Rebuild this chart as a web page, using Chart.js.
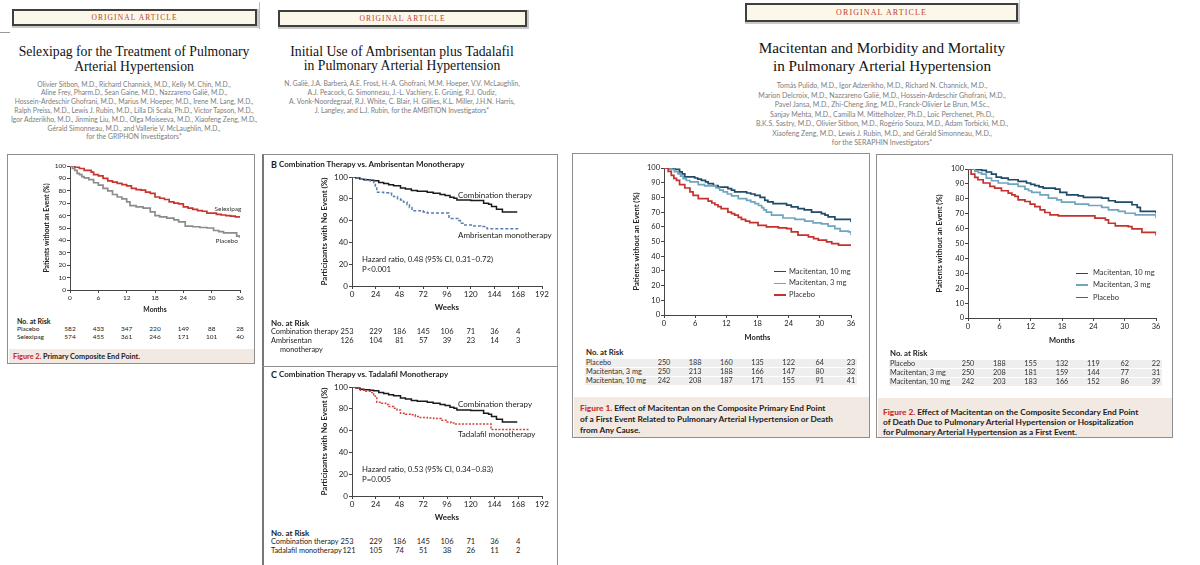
<!DOCTYPE html>
<html>
<head>
<meta charset="utf-8">
<script src="https://cdn.jsdelivr.net/npm/chart.js@4.4.1/dist/chart.umd.min.js"></script>
<style>
html, body { margin: 0; padding: 0; background: #fff; }
body { width: 1200px; height: 565px; position: relative; overflow: hidden; font-family: Lato, "Open Sans", sans-serif; color: #222; }
.t { position: absolute; white-space: pre; line-height: 1; transform: translate(0, -50%); }
.tc { transform: translate(-50%, -50%); }
.oa { position: absolute; box-sizing: border-box; background: #fbf8e9; border: 2px solid #3f3f3f; box-shadow: 1px 1px 0 1px #c9c9c9;
      display: flex; align-items: center; justify-content: center; font-family: "Liberation Serif", "DejaVu Serif", serif;
      color: #c23a30; letter-spacing: 1.1px; }
.title { position: absolute; text-align: center; white-space: pre; font-family: "Liberation Serif", "DejaVu Serif", serif; color: #111; }
.authors { position: absolute; text-align: center; white-space: pre; color: #7d7d7d; }
.box { position: absolute; box-sizing: border-box; border: 1.5px solid #8e8e8e; }
.cap { position: absolute; background: #f1e9e2; }
.captxt { position: absolute; white-space: pre; font-weight: bold; color: #222; }
.captxt b { color: #c8302d; }
.chart { position: absolute; }
.band { position: absolute; background: #eeeeee; }
</style>
</head>
<body>

<!-- Selexipag article header -->
<div style="position:absolute;left:0;top:32px;width:10px;height:1px;background:#999"></div>
<div style="position:absolute;left:259px;top:2px;width:1px;height:27px;background:#bbb"></div>
<div class="oa" style="left:12px;top:9px;width:245px;height:17px;font-size:7.5px">ORIGINAL ARTICLE</div>
<div class="title" style="left:0;top:43.5px;width:268px;font-size:13.7px;line-height:15px">Selexipag for the Treatment of Pulmonary
Arterial Hypertension</div>
<div class="authors" style="left:0;top:79.6px;width:268px;font-size:6.8px;line-height:8.8px">Olivier Sitbon, M.D., Richard Channick, M.D., Kelly M. Chin, M.D.,
Aline Frey, Pharm.D., Sean Gaine, M.D., Nazzareno Galiè, M.D.,
Hossein-Ardeschir Ghofrani, M.D., Marius M. Hoeper, M.D., Irene M. Lang, M.D.,
Ralph Preiss, M.D., Lewis J. Rubin, M.D., Lilla Di Scala, Ph.D., Victor Tapson, M.D.,
Igor Adzerikho, M.D., Jinming Liu, M.D., Olga Moiseeva, M.D., Xiaofeng Zeng, M.D.,
Gérald Simonneau, M.D., and Vallerie V. McLaughlin, M.D.,
for the GRIPHON Investigators*</div>

<!-- Ambrisentan + tadalafil article header -->
<div class="oa" style="left:278px;top:10px;width:249px;height:17px;font-size:7.5px">ORIGINAL ARTICLE</div>
<div class="title" style="left:262px;top:44.5px;width:280px;font-size:13.7px;line-height:14.5px">Initial Use of Ambrisentan plus Tadalafil
in Pulmonary Arterial Hypertension</div>
<div class="authors" style="left:262px;top:78.5px;width:280px;font-size:6.8px;line-height:9px">N. Galiè, J.A. Barberà, A.E. Frost, H.-A. Ghofrani, M.M. Hoeper, V.V. McLaughlin,
A.J. Peacock, G. Simonneau, J.-L. Vachiery, E. Grünig, R.J. Oudiz,
A. Vonk-Noordegraaf, R.J. White, C. Blair, H. Gillies, K.L. Miller, J.H.N. Harris,
J. Langley, and L.J. Rubin, for the AMBITION Investigators*</div>

<!-- Macitentan article header -->
<div style="position:absolute;left:1019px;top:0;width:1px;height:24px;background:#ccc"></div>
<div class="oa" style="left:745px;top:3px;width:273px;height:19px;font-size:8px">ORIGINAL ARTICLE</div>
<div class="title" style="left:732px;top:38.8px;width:300px;font-size:15.2px;line-height:18.5px">Macitentan and Morbidity and Mortality
in Pulmonary Arterial Hypertension</div>
<div class="authors" style="left:732px;top:81.3px;width:300px;font-size:7px;line-height:9.5px">Tomás Pulido, M.D., Igor Adzerikho, M.D., Richard N. Channick, M.D.,
Marion Delcroix, M.D., Nazzareno Galiè, M.D., Hossein-Ardeschir Ghofrani, M.D.,
Pavel Jansa, M.D., Zhi-Cheng Jing, M.D., Franck-Olivier Le Brun, M.Sc.,
Sanjay Mehta, M.D., Camilla M. Mittelholzer, Ph.D., Loïc Perchenet, Ph.D.,
B.K.S. Sastry, M.D., Olivier Sitbon, M.D., Rogério Souza, M.D., Adam Torbicki, M.D.,
Xiaofeng Zeng, M.D., Lewis J. Rubin, M.D., and Gérald Simonneau, M.D.,
for the SERAPHIN Investigators*</div>

<!-- figure frames -->
<div class="box" style="left:7px;top:154px;width:248px;height:210px"></div>
<div class="cap" style="left:8.5px;top:349px;width:245px;height:13.5px"></div>
<div class="captxt" style="left:13px;top:352px;font-size:7.3px"><b>Figure 2.</b> Primary Composite End Point.</div>

<div class="box" style="left:262px;top:154px;width:296px;height:430px;border-left:2px solid #777"></div>
<div style="position:absolute;left:262px;top:365.5px;width:296px;height:1.5px;background:#8e8e8e"></div>

<div class="box" style="left:572px;top:153px;width:298px;height:285px"></div>
<div class="cap" style="left:573.5px;top:397px;width:295px;height:39.5px"></div>
<div class="captxt" style="left:580px;top:402.5px;font-size:8.3px;line-height:11px"><b>Figure 1.</b> Effect of Macitentan on the Composite Primary End Point
of a First Event Related to Pulmonary Arterial Hypertension or Death
from Any Cause.</div>

<div class="box" style="left:876px;top:154px;width:297px;height:284px"></div>
<div class="cap" style="left:877.5px;top:398px;width:294px;height:38.5px"></div>
<div class="captxt" style="left:883px;top:406.5px;font-size:8.3px;line-height:10px"><b>Figure 2.</b> Effect of Macitentan on the Composite Secondary End Point
of Death Due to Pulmonary Arterial Hypertension or Hospitalization
for Pulmonary Arterial Hypertension as a First Event.</div>

<div class="chart" style="left:43px;top:156px;width:211px;height:158px"><canvas id="selexChart"></canvas></div>
<div class="chart" style="left:320px;top:168px;width:236px;height:144px"><canvas id="ambrisChart"></canvas></div>
<div class="chart" style="left:320px;top:378px;width:236px;height:144px"><canvas id="tadalChart"></canvas></div>
<div class="chart" style="left:632px;top:158px;width:233px;height:184px"><canvas id="macPrimaryChart"></canvas></div>
<div class="chart" style="left:935px;top:159px;width:235px;height:186px"><canvas id="macSecondaryChart"></canvas></div>

<script>
// ---- Selexipag (GRIPHON), months vs % without event ----
const selexipagCurve = [[0,100],[1,99],[2,98],[3,96.5],[4.5,95],[5,93],[6,92],[7,90],[8,88],[9,87],[10,86],[11,85],[12,84],[13,82],[14,81],[15,80.5],[16,79],[17,78],[18,75],[19,74],[20,73],[21,71],[22,70],[23,69.5],[24,67],[25,66],[26,65],[27,64],[28,63.5],[29,62],[30,62],[31,61],[32,60.5],[33,60],[34,59.5],[35,59],[36,58.5]];
const selexPlaceboCurve = [[0,100],[0.5,98],[1,96.5],[1.5,94],[2,93],[2.5,91.5],[3,90.5],[4,89],[5,86.5],[6,84.5],[7,82],[8,80],[9,77],[10,75],[11,73.5],[12,71],[12.7,68],[14,67],[15.5,66],[17,63],[18,60],[19,59],[20.5,58],[22,56.5],[23,55],[24.4,51.5],[26,51],[27.5,50.4],[29,50],[30.4,48],[31.5,47],[32.5,46],[35,46],[35.3,43.4],[36,42]];
const selexRiskMonths = [0, 6, 12, 18, 24, 30, 36];
const selexRiskPlacebo = [582, 433, 347, 220, 149, 88, 28];
const selexRiskSelexipag = [574, 455, 361, 246, 171, 101, 40];

// ---- AMBITION, weeks vs % with no event ----
const comboCurve = [[0,100],[4,99],[8,98],[12,97.5],[18,97],[22,96.5],[27,95],[32,94],[37,93],[42,92],[49,90],[54,89],[60,87.7],[66,87],[76,86],[82,85],[89,84],[94,83],[99,81.5],[103,80.5],[106,79],[120,78.5],[131,78.5],[133,76],[138,75],[141,73],[146,70.5],[152,68],[167,68]];
const ambrisentanCurve = [[0,100],[5,99],[8,98],[14,97],[18.5,96],[22,94],[23.6,91.4],[25,86],[32,85.5],[37,85],[40,83.5],[42,82],[46,80],[49,79],[52,77],[55.6,74.5],[58,72],[60.6,69],[72,68],[76,67],[96,67],[98,62],[108,60],[109.5,57.5],[113,56],[122,55],[130,54.5],[136.5,52.6],[168,52.6]];
const tadalafilCurve = [[0,100],[4,99],[8.4,97],[14,96],[18.5,95],[22,93],[23.6,91.4],[25,86],[30,85],[34,84],[37,82],[42,80.5],[45.5,79],[49,76],[54,75],[59,74.5],[64,73],[69,72],[76,71.5],[82.5,71],[90,69.5],[96,68],[100,67],[103,66],[140,66],[140.5,61],[179,61]];
const ambitionRiskWeeks = [0, 24, 48, 72, 96, 120, 144, 168];
const riskCombo = [253, 229, 186, 145, 106, 71, 36, 4];
const riskAmbrisentan = [126, 104, 81, 57, 39, 23, 14, 3];
const riskTadalafil = [121, 105, 74, 51, 38, 26, 11, 2];

// ---- SERAPHIN figure 1 (primary end point) ----
const macPrim10 = [[0,100],[1,99.5],[2.1,99],[3,97.3],[3.5,96],[4,94],[5.9,93.2],[6.5,92.5],[7.2,91.6],[8,90.5],[8.5,89.4],[9.5,88],[10.4,87],[12.3,86],[13,85],[13.6,83.7],[15.9,83],[16.7,82.3],[17.5,81.4],[18.5,80],[19.4,78],[20,77],[21,75.8],[23.6,74.7],[24.5,73.5],[25.8,72.4],[27,71.5],[28.4,70],[30.3,69],[31,68],[31.6,66.7],[32.9,65],[35.8,65],[36,63.3]];
const macPrim3 = [[0,100],[1.4,99],[2,97.5],[2.7,96],[3.2,94.5],[3.7,92.8],[4.3,91.5],[5,90.5],[6.6,88.7],[7.8,87.8],[10,86.4],[10.7,85],[11.4,83.7],[12.2,82.3],[13,81],[14.3,79.2],[15.9,78],[16.7,77],[17.5,75.8],[18.2,74.5],[18.8,73],[19.2,71.5],[19.7,70],[20.7,67.9],[22,67.9],[22.9,66],[25.2,65],[27.1,63.8],[28.7,62.7],[30.3,62],[31.6,60.4],[32.9,58.8],[33.9,57],[35.5,56.6],[36,54.3]];
const macPrimPlacebo = [[0,100],[0.8,97.7],[1.4,95],[1.9,93],[2.4,91.6],[3,88.7],[4,86.4],[5,83.7],[5.6,81.4],[6.6,79.2],[8.5,77.4],[9.2,76.2],[9.8,75],[10.4,73.7],[11,72.4],[12.3,70],[13,69],[13.6,67.9],[14.3,66.4],[14.9,65],[15.7,63.9],[16.5,62.9],[18.1,61],[19.7,60],[22,59.3],[23.6,58.8],[24.5,56.6],[25.8,54.3],[27.8,53.2],[28.8,52],[29.7,51],[31.3,49.8],[32.3,48.6],[33.6,47.5],[36,47.5]];
const macRiskMonths = [0, 6, 12, 18, 24, 30, 36];
const macPrimRiskPlacebo = [250, 188, 160, 135, 122, 64, 23];
const macPrimRisk3 = [250, 213, 188, 166, 147, 80, 32];
const macPrimRisk10 = [242, 208, 187, 171, 155, 91, 41];

// ---- SERAPHIN figure 2 (secondary end point) ----
const macSec10 = [[0,100],[1.5,99.5],[2.6,99.1],[3.5,98],[4.5,96.6],[5.4,94.6],[6.4,93.9],[7.7,92.8],[9.6,91.7],[11.2,90.6],[12,89.7],[12.8,88.8],[13.6,88],[14.4,87.2],[16.7,86.5],[17.6,84.3],[18.9,82.7],[21.1,82],[22.1,81],[25.6,80.4],[26.9,78.7],[28.2,77.8],[31.4,76],[32.4,74.2],[33,71.5],[35.9,71.5],[36,70.3]];
const macSec3 = [[0,100],[1.3,98.4],[2,97.5],[2.6,96.6],[3.5,93.9],[4.5,92.1],[5.8,90.6],[7.7,89.9],[9.6,88.3],[10.9,86.5],[11.6,85.4],[12.2,84.3],[13.8,82.7],[15.4,80.4],[17,79.3],[17.9,77.8],[20.5,76.4],[23.1,75.5],[25.6,74.2],[26.9,72.6],[28.8,71.5],[30.1,70.3],[32,69.2],[35.9,69.2],[36,67]];
const macSecPlacebo = [[0,100],[0.6,96.6],[1.3,94.4],[1.9,92.8],[2.9,90.6],[4.2,88.3],[5.1,87.2],[6.4,85.4],[7.7,83.8],[8.4,82.7],[9,81.6],[9.6,79.3],[10.9,78.2],[11.9,76.4],[12.8,74.8],[13.8,72.6],[14.7,70.8],[15.7,69.2],[17.3,68.5],[23.1,68.5],[24.3,67],[26.3,65.8],[26.9,63.6],[28.2,61.8],[30.7,61.3],[31.4,59.8],[33.3,57.5],[35.9,57.5],[36,55.3]];
const macSecRiskPlacebo = [250, 188, 155, 132, 119, 62, 22];
const macSecRisk3 = [250, 208, 181, 159, 144, 77, 31];
const macSecRisk10 = [242, 203, 183, 166, 152, 86, 39];

const AXIS = '#454545';
Chart.defaults.font.family = 'Lato, "Open Sans", sans-serif';
Chart.defaults.color = '#222';

function curve(points, color, dash, width) {
    return {
        data: points.map(p => ({ x: p[0], y: p[1] })),
        stepped: true,
        borderColor: color,
        borderWidth: width || 1.7,
        borderDash: dash || [],
        pointRadius: 0,
        fill: false
    };
}

// Kaplan-Meier style plot with fixed axis sizes so the plot area lands where the figure has it
function kmChart(id, datasets, o) {
    const ctx = document.getElementById(id).getContext('2d');
    return new Chart(ctx, {
        type: 'line',
        data: { datasets: datasets },
        options: {
            responsive: true,
            maintainAspectRatio: false,
            animation: false,
            layout: { padding: { top: o.padTop, right: 14, left: 0, bottom: 0 } },
            plugins: { legend: { display: false }, tooltip: { enabled: false } },
            scales: {
                x: {
                    type: 'linear', min: 0, max: o.xMax,
                    ticks: { stepSize: o.xStep, font: { size: o.tickSize }, padding: 1, maxRotation: 0 },
                    grid: { drawOnChartArea: false, tickLength: 3, color: AXIS },
                    border: { color: AXIS, width: 1 },
                    title: { display: true, text: o.xTitle, font: { size: o.titleSize, weight: 'bold' }, padding: 0 },
                    afterFit: s => { s.height = o.xAxisH; }
                },
                y: {
                    min: 0, max: 100,
                    ticks: { stepSize: o.yStep, font: { size: o.tickSize }, padding: 1 },
                    grid: { drawOnChartArea: false, tickLength: 3, color: AXIS },
                    border: { color: AXIS, width: 1 },
                    title: { display: true, text: o.yTitle, font: { size: o.titleSize, weight: 'bold' }, padding: 0 },
                    afterFit: s => { s.width = o.yAxisW; }
                }
            }
        }
    });
}

function put(x, y, text, style, centered) {
    const d = document.createElement('div');
    d.className = 't' + (centered ? ' tc' : '');
    d.style.left = x + 'px';
    d.style.top = y + 'px';
    d.textContent = text;
    if (style) d.style.cssText += style;
    document.body.appendChild(d);
    return d;
}

// risk numbers sit under the x ticks, so take their x from the chart's own scale
function riskRow(chart, left, times, counts, y, style, firstShift) {
    const sc = chart.scales.x;
    times.forEach((t, i) => {
        const x = left + sc.getPixelForValue(t) + (i === 0 ? (firstShift || 0) : 0);
        put(x, y, String(counts[i]), style, true);
    });
}

// ---- Selexipag chart ----
const selexChart = kmChart('selexChart', [
    curve(selexPlaceboCurve, '#8c8c8c'),
    curve(selexipagCurve, '#c8352e')
], { xMax: 36, xStep: 6, yStep: 10, tickSize: 6.5, titleSize: 6.8, xTitle: 'Months',
     yTitle: 'Patients without an Event (%)', padTop: 10, xAxisH: 24, yAxisW: 27 });
put(214.5, 208.5, 'Selexipag', 'font-size:6.5px;color:#333');
put(215.5, 240.5, 'Placebo', 'font-size:6.5px;color:#333');
put(17, 321, 'No. at Risk', 'font-size:7px;font-weight:bold');
put(17, 329, 'Placebo', 'font-size:6.5px');
put(17, 337, 'Selexipag', 'font-size:6.5px');
riskRow(selexChart, 43, selexRiskMonths, selexRiskPlacebo, 329, 'font-size:6.5px');
riskRow(selexChart, 43, selexRiskMonths, selexRiskSelexipag, 337, 'font-size:6.5px');

// ---- AMBITION panel B ----
const ambrisChart = kmChart('ambrisChart', [
    curve(ambrisentanCurve, '#5a7db0', [3, 2], 1.5),
    curve(comboCurve, '#1a1a1a', null, 1.5)
], { xMax: 192, xStep: 24, yStep: 20, tickSize: 8, titleSize: 8, xTitle: 'Weeks',
     yTitle: 'Participants with No Event (%)', padTop: 9, xAxisH: 26, yAxisW: 32 });
put(271, 164, 'B', 'font-size:9px;font-weight:bold');
put(279, 164, 'Combination Therapy vs. Ambrisentan Monotherapy', 'font-size:8px;font-weight:bold');
put(458, 195, 'Combination therapy', 'font-size:8px');
put(458, 234.5, 'Ambrisentan monotherapy', 'font-size:8px');
put(362, 260, 'Hazard ratio, 0.48 (95% CI, 0.31\u20130.72)', 'font-size:7.8px');
put(362, 269.5, 'P<0.001', 'font-size:7.8px');
put(271, 323, 'No. at Risk', 'font-size:8px;font-weight:bold');
put(271, 332, 'Combination therapy', 'font-size:7.3px');
put(271, 341, 'Ambrisentan', 'font-size:7.3px');
put(280, 350, 'monotherapy', 'font-size:7.3px');
riskRow(ambrisChart, 320, ambitionRiskWeeks, riskCombo, 332, 'font-size:7.5px', -5);
riskRow(ambrisChart, 320, ambitionRiskWeeks, riskAmbrisentan, 341, 'font-size:7.5px', -5);

// ---- AMBITION panel C ----
const tadalChart = kmChart('tadalChart', [
    curve(tadalafilCurve, '#d2443c', [2, 1.5], 1.5),
    curve(comboCurve, '#1a1a1a', null, 1.5)
], { xMax: 192, xStep: 24, yStep: 20, tickSize: 8, titleSize: 8, xTitle: 'Weeks',
     yTitle: 'Participants with No Event (%)', padTop: 9, xAxisH: 26, yAxisW: 32 });
put(271, 374, 'C', 'font-size:9px;font-weight:bold');
put(279, 374, 'Combination Therapy vs. Tadalafil Monotherapy', 'font-size:8px;font-weight:bold');
put(458, 403.5, 'Combination therapy', 'font-size:8px');
put(458, 434, 'Tadalafil monotherapy', 'font-size:8px');
put(362, 470, 'Hazard ratio, 0.53 (95% CI, 0.34\u20130.83)', 'font-size:7.8px');
put(362, 479.5, 'P=0.005', 'font-size:7.8px');
put(271, 533, 'No. at Risk', 'font-size:8px;font-weight:bold');
put(271, 542, 'Combination therapy', 'font-size:7.3px');
put(271, 551, 'Tadalafil monotherapy', 'font-size:7.3px');
riskRow(tadalChart, 320, ambitionRiskWeeks, riskCombo, 542, 'font-size:7.5px', -5);
riskRow(tadalChart, 320, ambitionRiskWeeks, riskTadalafil, 551, 'font-size:7.5px', -3);

// ---- SERAPHIN charts ----
const MAC10 = '#1f4b68', MAC3 = '#6fa6bd', MACPL = '#c5322c';

function macLegend(lineX, textX, ys) {
    const items = [['Macitentan, 10 mg', MAC10], ['Macitentan, 3 mg', MAC3], ['Placebo', MACPL]];
    items.forEach((it, i) => {
        const ln = document.createElement('div');
        ln.style.cssText = 'position:absolute;left:' + lineX + 'px;top:' + (ys[i] - 0.75) + 'px;width:12px;height:1.5px;background:' + it[1];
        document.body.appendChild(ln);
        put(textX, ys[i], it[0], 'font-size:7.5px;color:#333');
    });
}

function macRisk(chart, left, labelX, ys, rows) {
    const names = ['Placebo', 'Macitentan, 3 mg', 'Macitentan, 10 mg'];
    const x0 = labelX - 1, x1 = left + chart.scales.x.right + 6;
    ys.forEach((y, i) => {
        const b = document.createElement('div');
        b.className = 'band';
        b.style.cssText = 'left:' + x0 + 'px;top:' + (y - 4) + 'px;width:' + (x1 - x0) + 'px;height:8px';
        document.body.appendChild(b);
        put(labelX, y, names[i], 'font-size:7.3px;color:#333');
        riskRow(chart, left, macRiskMonths, rows[i], y, 'font-size:7.3px;color:#333');
    });
}

const macPrimaryChart = kmChart('macPrimaryChart', [
    curve(macPrimPlacebo, MACPL),
    curve(macPrim3, MAC3),
    curve(macPrim10, MAC10)
], { xMax: 36, xStep: 6, yStep: 10, tickSize: 7.5, titleSize: 7.5, xTitle: 'Months',
     yTitle: 'Patients without an Event (%)', padTop: 10, xAxisH: 27, yAxisW: 32 });
macLegend(774, 789, [271.7, 283.3, 295]);
put(586, 353, 'No. at Risk', 'font-size:7.8px;font-weight:bold');
macRisk(macPrimaryChart, 632, 586, [363, 372, 380.5], [macPrimRiskPlacebo, macPrimRisk3, macPrimRisk10]);

const macSecondaryChart = kmChart('macSecondaryChart', [
    curve(macSecPlacebo, MACPL),
    curve(macSec3, MAC3),
    curve(macSec10, MAC10)
], { xMax: 36, xStep: 6, yStep: 10, tickSize: 7.5, titleSize: 7.5, xTitle: 'Months',
     yTitle: 'Patients without an Event (%)', padTop: 10, xAxisH: 27, yAxisW: 33 });
macLegend(1076, 1093, [273.3, 285, 297.7]);
put(890, 354, 'No. at Risk', 'font-size:7.8px;font-weight:bold');
macRisk(macSecondaryChart, 935, 890, [364, 373, 382], [macSecRiskPlacebo, macSecRisk3, macSecRisk10]);
</script>
</body>
</html>
